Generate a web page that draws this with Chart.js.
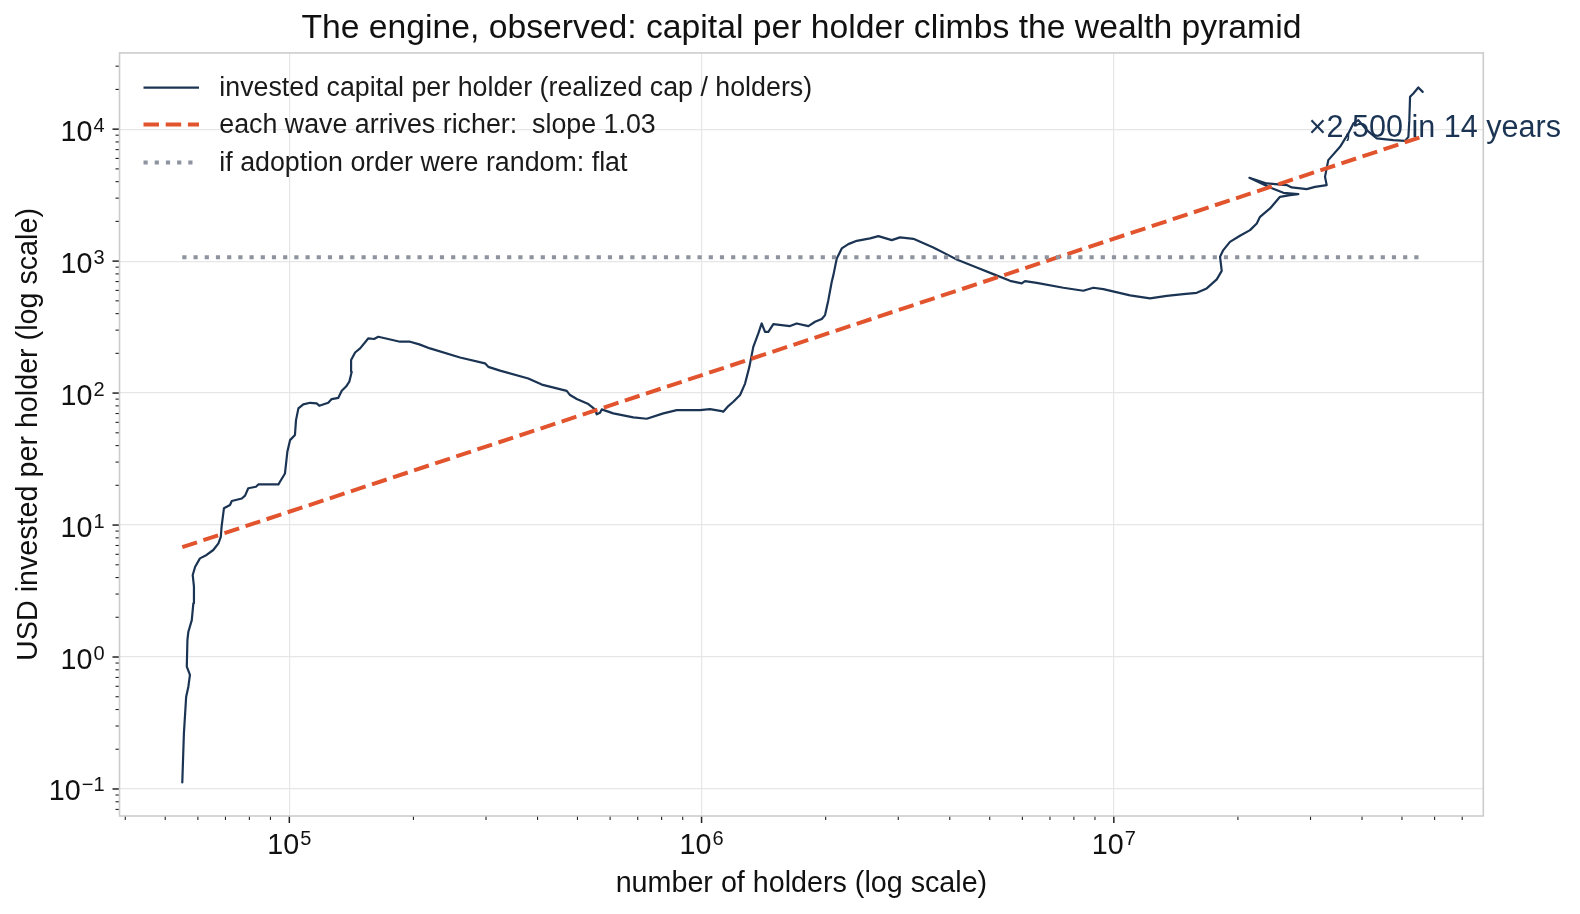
<!DOCTYPE html>
<html>
<head>
<meta charset="utf-8">
<title>capital per holder</title>
<script src="https://cdn.jsdelivr.net/npm/chart.js@4.4.1/dist/chart.umd.min.js"></script>
<style>
  html, body { margin: 0; padding: 0; background: #fff; }
  #wrap { width: 1580px; height: 914px; }
</style>
</head>
<body>
<div id="wrap"><canvas id="engineChart" width="1580" height="914"></canvas></div>
<script>
// number of holders (x) and USD invested per holder (y)
const holders = [
    55000, 55500, 56200, 56900, 57400, 56400, 56600, 56900, 58000, 58500,
    58700, 58300, 59100, 60700, 63000, 65400, 67300, 68200, 68500, 69400,
    71800, 72500, 76700, 78100, 79500, 83000, 84100, 94100, 94900, 97600,
    98900, 100400, 103200, 103800, 105200, 108100, 112300, 116500, 118200, 124300,
    126700, 131500, 134000, 137300, 139800, 141700, 141200, 144400, 148500, 155500,
    160500, 164400, 185600, 196300, 206700, 219400, 259500, 298300, 303800, 324400,
    379900, 409600, 470900, 479700, 498000, 531300, 551500, 556800, 567100, 572500,
    610700, 683000, 736200, 807700, 870500, 991300, 1048000, 1119000, 1129000, 1161000,
    1194000, 1240000, 1275000, 1306000, 1335000, 1373000, 1399000, 1425000, 1452000, 1493000,
    1639000, 1701000, 1816000, 1885000, 1957000, 1993000, 2030000, 2069000, 2088000, 2128000,
    2188000, 2270000, 2379000, 2563000, 2685000, 2893000, 3030000, 3264000, 3649000, 3968000,
    4158000, 4650000, 5102000, 5601000, 5978000, 6089000, 6501000, 7543000, 8433000, 8918000,
    9430000, 10950000, 12240000, 13440000, 14740000, 15890000, 16800000, 17770000, 18270000, 18100000,
    18430000, 19130000, 20230000, 21400000, 22220000, 22630000, 23930000, 25300000, 26760000, 28030000,
    25780000, 23930000, 21320000, 23490000, 26270000, 27010000, 29370000, 30770000, 32840000, 32530000,
    33130000, 35380000, 37060000, 38110000, 39190000, 41070000, 43430000, 47640000, 50870000, 51820000,
    52100000, 52310000, 53280000, 54780000, 56140000
];
const perHolder = [
    0.112, 0.264, 0.500, 0.596, 0.731, 0.845, 1.345, 1.555, 1.905, 2.55,
    3.41, 4.18, 4.83, 5.59, 5.93, 6.47, 7.27, 8.15, 9.71, 13.4,
    14.2, 15.2, 15.9, 16.7, 19.0, 19.5, 20.3, 20.3, 21.3, 24.6,
    35.9, 44.0, 48.1, 62.4, 76.6, 82.1, 84.4, 83.6, 80.1, 84.4,
    90.1, 92.1, 104, 112, 122, 145, 178, 203, 218, 260,
    257, 267, 245, 245, 234, 218, 186, 168, 158, 148,
    129, 116, 104, 96.6, 90.1, 82.5, 75.2, 69.0, 70.9, 75.2,
    70.2, 65.4, 63.9, 70.2, 74.3, 74.3, 75.6, 73.0, 72.2, 79.7,
    85.9, 96.6, 118, 158, 224, 283, 337, 291, 291, 333,
    322, 337, 322, 347, 364, 390, 506, 697, 783, 1048,
    1248, 1345, 1425, 1486, 1547, 1443, 1512, 1475, 1270, 1110,
    1030, 896, 797, 709, 678, 706, 685, 628, 596, 628,
    614, 550, 522, 546, 562, 575, 621, 727, 844, 1078,
    1212, 1400, 1555, 1717, 1930, 2166, 2507, 3070, 3162, 3218,
    3292, 3616, 4277, 3879, 3766, 3616, 3511, 3655, 3766, 4351,
    5824, 7343, 9277, 11050, 11700, 9827, 8500, 8254, 8154, 8745,
    11700, 17570, 18640, 20700, 19170
];

// power-law fit and the flat "random order" reference
const fitHolders = [55000, 56140000];
const fitValues = [6.8, 8800];
const flatHolders = [55000, 56140000];
const flatValues = [1070, 1070];

const seriesNames = [
    'invested capital per holder (realized cap / holders)',
    'each wave arrives richer:  slope 1.03',
    'if adoption order were random: flat'
];

// decade ticks: value, then [base, exponent] for the label
const xMajorTicks = [1e5, 1e6, 1e7];
const xTickLabels = [['10', '5'], ['10', '6'], ['10', '7']];
const yMajorTicks = [0.1, 1, 10, 100, 1000, 10000];
const yTickLabels = [['10', '\u22121'], ['10', '0'], ['10', '1'], ['10', '2'], ['10', '3'], ['10', '4']];

const noteText = '\u00D72,500 in 14 years';
const notePos = { x: 3e7, y: 1e4 };

const NAVY = '#1b3453';
const ORANGE = '#e2542d';
const GREY = '#8e949f';
const FONT = "'Liberation Sans', Arial, Helvetica, sans-serif";

Chart.defaults.font.family = FONT;

function toPoints(xs, ys) {
    return xs.map((x, i) => ({ x: x, y: ys[i] }));
}

function sameValue(a, b) {
    return Math.abs(a / b - 1) < 1e-9;
}

function isMajor(value, majors) {
    return majors.some(m => sameValue(value, m));
}

// 1..9 x 10^n inside the axis range, like matplotlib's log locator
function logTicks(min, max) {
    let out = [];
    for (let e = Math.floor(Math.log10(min)); e <= Math.ceil(Math.log10(max)); e++) {
        for (let m = 1; m <= 9; m++) {
            let v = m * Math.pow(10, e);
            if (v >= min && v <= max) out.push({ value: v });
        }
    }
    return out;
}

// "10" with a raised exponent
function powerLabel(ctx, parts, x, baseline, align) {
    ctx.font = '28.7px ' + FONT;
    let wb = ctx.measureText(parts[0]).width;
    ctx.font = '20px ' + FONT;
    let ws = ctx.measureText(parts[1]).width;
    let w = wb + 1 + ws;
    let left = align === 'right' ? x - w : x - w / 2;
    ctx.textAlign = 'left';
    ctx.textBaseline = 'alphabetic';
    ctx.font = '28.7px ' + FONT;
    ctx.fillText(parts[0], left, baseline);
    ctx.font = '20px ' + FONT;
    ctx.fillText(parts[1], left + wb + 1, baseline - 9);
}

// spines, outward tick marks (long for decades, short for minors) and decade labels
const frameAndTicks = {
    id: 'frameAndTicks',
    afterDatasetsDraw(chart) {
        const { ctx, chartArea: a, scales: { x, y } } = chart;
        ctx.save();
        ctx.strokeStyle = '#222';
        x.ticks.forEach(t => {
            let major = isMajor(t.value, xMajorTicks);
            let px = x.getPixelForValue(t.value);
            ctx.lineWidth = major ? 1.5 : 1.1;
            ctx.beginPath();
            ctx.moveTo(px, a.bottom);
            ctx.lineTo(px, a.bottom + (major ? 7 : 4));
            ctx.stroke();
        });
        y.ticks.forEach(t => {
            let major = isMajor(t.value, yMajorTicks);
            let py = y.getPixelForValue(t.value);
            ctx.lineWidth = major ? 1.5 : 1.1;
            ctx.beginPath();
            ctx.moveTo(a.left, py);
            ctx.lineTo(a.left - (major ? 7 : 4), py);
            ctx.stroke();
        });
        ctx.strokeStyle = '#cccccc';
        ctx.lineWidth = 1.6;
        ctx.strokeRect(a.left, a.top, a.right - a.left, a.bottom - a.top);

        ctx.fillStyle = '#111';
        xMajorTicks.forEach((v, i) => {
            powerLabel(ctx, xTickLabels[i], x.getPixelForValue(v), a.bottom + 38, 'center');
        });
        yMajorTicks.forEach((v, i) => {
            powerLabel(ctx, yTickLabels[i], a.left - 15, y.getPixelForValue(v) + 11.5, 'right');
        });
        ctx.restore();
    }
};

// legend drawn inside the plot, top left, no frame
const insideLegend = {
    id: 'insideLegend',
    afterDatasetsDraw(chart) {
        const { ctx, chartArea: a } = chart;
        const rows = [34.6, 71.5, 109.6];
        ctx.save();
        chart.data.datasets.forEach((ds, i) => {
            let yy = a.top + rows[i];
            ctx.strokeStyle = ds.borderColor;
            ctx.lineWidth = ds.borderWidth;
            ctx.setLineDash(ds.borderDash || []);
            ctx.beginPath();
            ctx.moveTo(a.left + 24, yy);
            ctx.lineTo(a.left + 79.5, yy);
            ctx.stroke();
            ctx.setLineDash([]);
            ctx.fillStyle = '#1a1a1a';
            ctx.font = '26.8px ' + FONT;
            ctx.textAlign = 'left';
            ctx.textBaseline = 'middle';
            ctx.fillText(ds.label, a.left + 99.8, yy + 1);
        });
        ctx.restore();
    }
};

const growthNote = {
    id: 'growthNote',
    afterDraw(chart) {
        const { ctx, scales: { x, y } } = chart;
        ctx.save();
        ctx.fillStyle = NAVY;
        ctx.font = '30.6px ' + FONT;
        ctx.textAlign = 'left';
        ctx.textBaseline = 'middle';
        ctx.fillText(noteText, x.getPixelForValue(notePos.x) - 2, y.getPixelForValue(notePos.y) - 1);
        ctx.restore();
    }
};

function gridColor(c, majors) {
    if (!c.tick) return 'rgba(0,0,0,0)';
    return isMajor(c.tick.value, majors) ? '#e6e6e6' : 'rgba(0,0,0,0)';
}

var engineChart = new Chart(document.getElementById('engineChart'), {
    type: 'scatter',
    data: {
        datasets: [
            {
                label: seriesNames[0],
                data: toPoints(holders, perHolder),
                showLine: true,
                borderColor: NAVY,
                borderWidth: 2.2,
                borderJoinStyle: 'round',
                borderCapStyle: 'round',
                pointRadius: 0,
                order: 3
            },
            {
                label: seriesNames[1],
                data: toPoints(fitHolders, fitValues),
                showLine: true,
                borderColor: ORANGE,
                borderWidth: 4,
                borderDash: [15.5, 6.7],
                pointRadius: 0,
                order: 2
            },
            {
                label: seriesNames[2],
                data: toPoints(flatHolders, flatValues),
                showLine: true,
                borderColor: GREY,
                borderWidth: 4,
                borderDash: [4.2, 7],
                pointRadius: 0,
                order: 1
            }
        ]
    },
    options: {
        responsive: false,
        animation: false,
        devicePixelRatio: 1,
        layout: { padding: { left: 0, right: 96.7, top: 0, bottom: 0 } },
        plugins: {
            legend: { display: false },
            tooltip: { enabled: false },
            title: {
                display: true,
                fullSize: false,
                text: 'The engine, observed: capital per holder climbs the wealth pyramid',
                color: '#111',
                font: { size: 33.7, weight: 'normal', lineHeight: 1.2 },
                padding: { top: 8, bottom: 4.5 }
            }
        },
        scales: {
            x: {
                type: 'logarithmic',
                position: 'bottom',
                min: 38730,
                max: 7.875e7,
                afterBuildTicks: s => { s.ticks = logTicks(s.min, s.max); },
                afterFit: s => { s.height = 98; },
                border: { display: false },
                grid: { color: c => gridColor(c, xMajorTicks), lineWidth: 1.2, drawTicks: false },
                ticks: { display: false, autoSkip: false },
                title: {
                    display: true,
                    text: 'number of holders (log scale)',
                    color: '#111',
                    font: { size: 28.7 },
                    padding: { top: 0, bottom: 12.8 }
                }
            },
            y: {
                type: 'logarithmic',
                min: 0.0624,
                max: 37800,
                afterBuildTicks: s => { s.ticks = logTicks(s.min, s.max); },
                afterFit: s => { s.width = 119.5; },
                border: { display: false },
                grid: { color: c => gridColor(c, yMajorTicks), lineWidth: 1.2, drawTicks: false },
                ticks: { display: false, autoSkip: false },
                title: {
                    display: true,
                    text: 'USD invested per holder (log scale)',
                    color: '#111',
                    font: { size: 28.7 },
                    padding: { top: 11.8, bottom: 0 }
                }
            }
        }
    },
    plugins: [frameAndTicks, insideLegend, growthNote]
});
</script>
</body>
</html>
